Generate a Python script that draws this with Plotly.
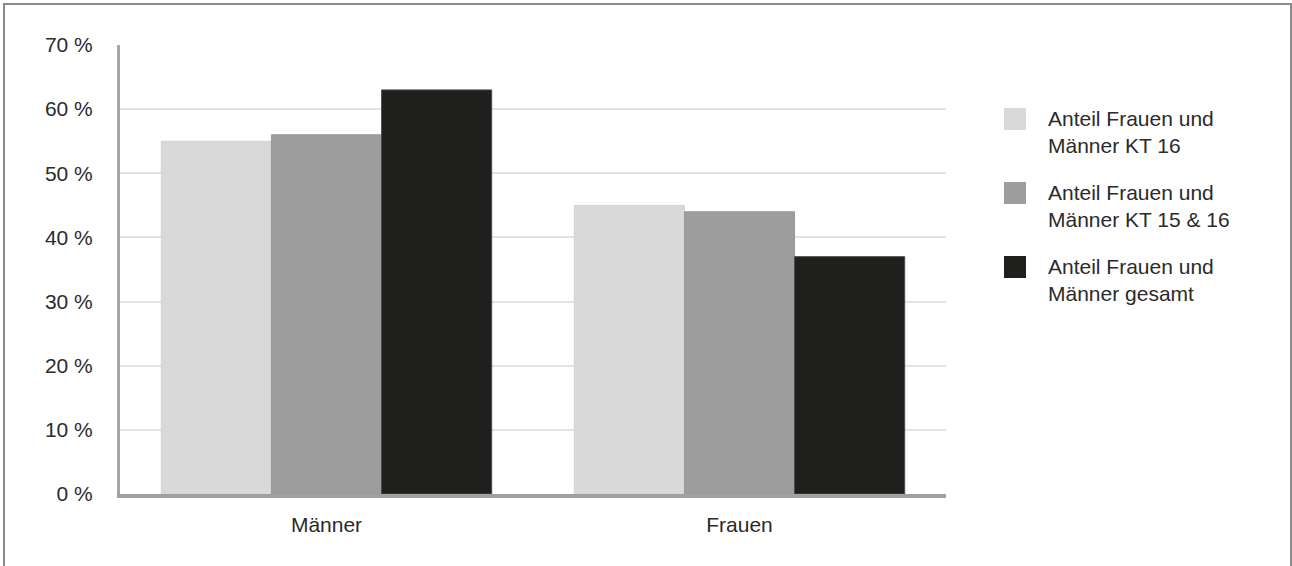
import plotly.graph_objects as go

categories = ["Männer", "Frauen"]
series_names = [
    "Anteil Frauen und<br>Männer KT 16",
    "Anteil Frauen und<br>Männer KT 15 & 16",
    "Anteil Frauen und<br>Männer gesamt",
]
kt16 = [55, 45]
kt15_16 = [56, 44]
gesamt = [63, 37]
y_ticks = [0, 10, 20, 30, 40, 50, 60, 70]
y_tick_labels = ["0 %", "10 %", "20 %", "30 %", "40 %", "50 %", "60 %", "70 %"]

series_values = [kt16, kt15_16, gesamt]
colors = ["#d9d9d9", "#9d9d9d", "#1f1f1d"]
edge_colors = ["#d4d4d4", "#999999", "#4a4a4a"]

W, H = 1292, 566
L, R, T, B = 120, 946, 45, 494  # plot area in pixels


def px(x):
    return (x - L) / (R - L)


def py(y):
    return (B - y) / (B - T)


fig = go.Figure()
for name, vals, c, ec in zip(series_names, series_values, colors, edge_colors):
    fig.add_trace(go.Bar(
        x=categories, y=vals, name=name,
        marker=dict(color=c, line=dict(color=ec, width=1)),
        showlegend=False,
    ))

font = dict(family="Liberation Sans, Arial, sans-serif", size=21, color="#2b2b2b")

shapes = [
    # outer frame
    dict(type="rect", xref="paper", yref="paper",
         x0=px(4), x1=px(1291), y0=py(620), y1=py(4),
         line=dict(color="#8c8c8c", width=2), fillcolor="rgba(0,0,0,0)", layer="above"),
]
annotations = []
leg_tops = [108, 182, 256]
for name, c, top in zip(series_names, colors, leg_tops):
    shapes.append(dict(type="rect", xref="paper", yref="paper",
                       x0=px(1004), x1=px(1026), y0=py(top + 22), y1=py(top),
                       line=dict(width=0), fillcolor=c))
    annotations.append(dict(xref="paper", yref="paper", x=px(1046), y=py(top + 24),
                            xanchor="left", yanchor="middle", align="left",
                            text=name, showarrow=False, font=font))

fig.update_layout(
    width=W, height=H,
    margin=dict(l=L, r=W - R, t=T, b=H - B, pad=0),
    paper_bgcolor="white", plot_bgcolor="white",
    barmode="group", bargap=0.2, bargroupgap=0,
    font=font,
    shapes=shapes, annotations=annotations,
    showlegend=False,
    xaxis=dict(showline=True, linecolor="#a0a0a0", linewidth=4, showgrid=False,
               ticks="", tickfont=font, ticklabelstandoff=9, fixedrange=True),
    yaxis=dict(range=[0, 70], tickmode="array", tickvals=y_ticks, ticktext=y_tick_labels,
               showgrid=True, gridcolor="#e3e3e3", gridwidth=2,
               showline=True, linecolor="#a6a6a6", linewidth=3,
               zeroline=False, ticks="", tickfont=font, ticklabelstandoff=20,
               fixedrange=True),
)

fig.write_html("out.html", config={"displayModeBar": False},
               post_script="document.body.style.margin='0';document.body.style.overflow='hidden';")
